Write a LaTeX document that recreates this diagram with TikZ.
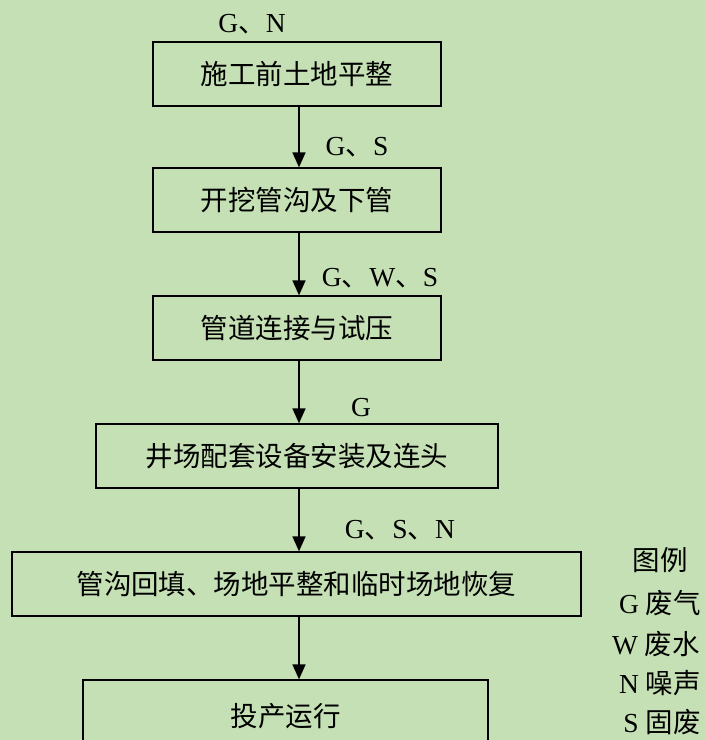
\documentclass[tikz,border=0pt]{standalone}
\usepackage{fontspec}
\setmainfont{Liberation Serif}
\newfontfamily\cjk{Noto Sans CJK SC}
\usetikzlibrary{arrows.meta}
\definecolor{bg}{HTML}{C5E0B4}
\newcommand{\dn}{{\cjk 、}}
\tikzset{
  box/.style={draw=black, line width=1.3pt, minimum height=64pt, inner sep=0pt, font=\cjk\fontsize{27.5}{30}\selectfont},
  lbl/.style={font=\fontsize{27.5}{30}\selectfont, inner sep=0pt},
  leg/.style={font=\fontsize{27.5}{30}\selectfont, inner sep=0pt},
  arr/.style={line width=1.5pt, -{Triangle[length=15pt,width=13pt]}},
}
\begin{document}
\begin{tikzpicture}[x=1pt,y=-1pt]
\useasboundingbox (0,0) rectangle (705,740);
\clip (0,0) rectangle (705,740);
\fill[bg] (0,0) rectangle (705,740);
\coordinate (ax) at (299,0);
\node[box, minimum width=288pt] (b1) at (297,74) {施工前土地平整};
\node[box, minimum width=288pt] (b2) at (297,200) {开挖管沟及下管};
\node[box, minimum width=288pt] (b3) at (297,328) {管道连接与试压};
\node[box, minimum width=402pt] (b4) at (297,456) {井场配套设备安装及连头};
\node[box, minimum width=569pt] (b5) at (296.5,584) {管沟回填、场地平整和临时场地恢复};
\node[box, minimum width=405pt, minimum height=68pt] (b6) at (285.5,714) {};
\node[font=\cjk\fontsize{27.5}{30}\selectfont, inner sep=0pt] (t6) at (285.5,716) {投产运行};
\draw[arr] (b1.south -| ax) -- (b2.north -| ax);
\draw[arr] (b2.south -| ax) -- (b3.north -| ax);
\draw[arr] (b3.south -| ax) -- (b4.north -| ax);
\draw[arr] (b4.south -| ax) -- (b5.north -| ax);
\draw[arr] (b5.south -| ax) -- (b6.north -| ax);
\node[lbl] (l1) at (252,24) {G\dn N};
\node[lbl] (l2) at (357,147) {G\dn S};
\node[lbl] (l3) at (380,278) {G\dn W\dn S};
\node[lbl] (l4) at (361,408) {G};
\node[lbl] (l5) at (400,530) {G\dn S\dn N};
\node[leg] (g0) at (660,560) {{\cjk 图例}};
\node[leg] (g1) at (660,603) {G {\cjk 废气}};
\node[leg] (g2) at (656,644) {W {\cjk 废水}};
\node[leg] (g3) at (660,683) {N {\cjk 噪声}};
\node[leg] (g4) at (662,722) {S {\cjk 固废}};
\end{tikzpicture}
\end{document}
